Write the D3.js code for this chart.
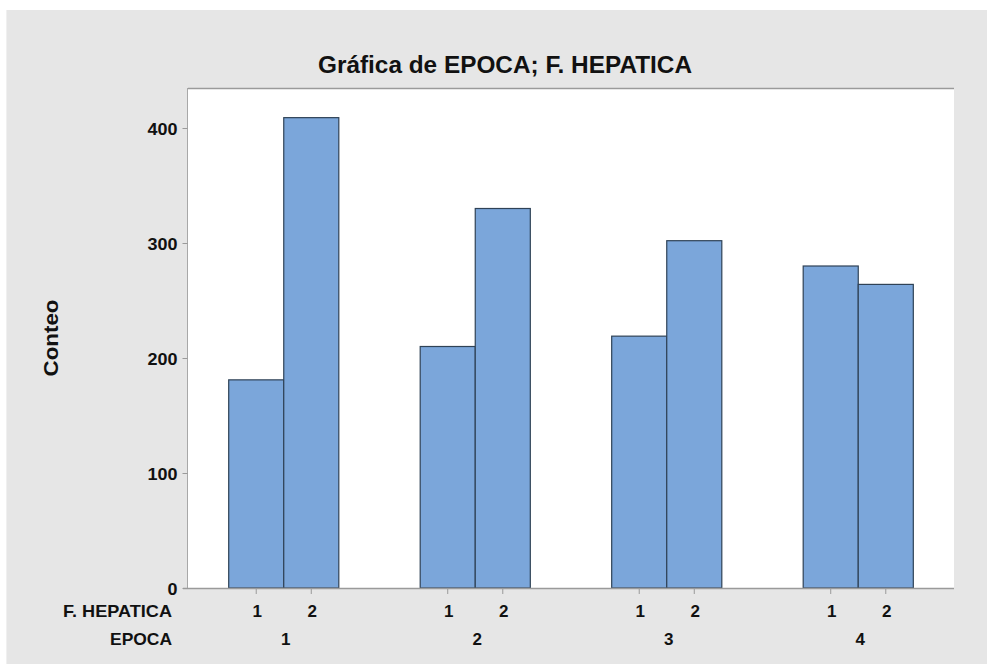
<!DOCTYPE html>
<html>
<head>
<meta charset="utf-8">
<script src="https://cdn.jsdelivr.net/npm/d3@7/dist/d3.min.js"></script>
<style>
  html, body { margin: 0; padding: 0; background: #ffffff; }
  svg { display: block; }
  text { font-family: "Liberation Sans", Arial, sans-serif; font-weight: bold; fill: #111; }
</style>
</head>
<body>
<svg id="chart" width="987" height="664"></svg>
<script>
// ---- data ----
const epocas = ["1", "2", "3", "4"];
const hepatica = ["1", "2"];
const counts1 = [181, 210, 219, 280];   // F. HEPATICA = 1
const counts2 = [409, 330, 302, 264];   // F. HEPATICA = 2
const yTicks = [0, 100, 200, 300, 400];
const title = "Gráfica de EPOCA; F. HEPATICA";
const yLabel = "Conteo";
const rowLabels = ["F. HEPATICA", "EPOCA"];

const data = [];
epocas.forEach((e, i) => {
  data.push({ epoca: e, hep: hepatica[0], value: counts1[i] });
  data.push({ epoca: e, hep: hepatica[1], value: counts2[i] });
});

const svg = d3.select("#chart");
const W = 987, H = 664;
const plot = { left: 188, top: 88, right: 954, bottom: 588 };

// outer background
svg.append("rect").attr("x", 0).attr("y", 0).attr("width", W).attr("height", H).attr("fill", "#ffffff");
svg.append("rect").attr("x", 6).attr("y", 10).attr("width", W - 6).attr("height", H - 10)
  .attr("fill", "#e6e6e6");
svg.append("line").attr("x1", 6.5).attr("x2", 6.5).attr("y1", 10).attr("y2", H)
  .attr("stroke", "#f0f0f0").attr("stroke-width", 1);

// plot area
svg.append("rect").attr("x", plot.left).attr("y", plot.top)
  .attr("width", plot.right - plot.left).attr("height", plot.bottom - plot.top)
  .attr("fill", "#ffffff");

const y = d3.scaleLinear().domain([0, 400]).range([plot.bottom, 128]);
const x0 = d3.scaleBand().domain(epocas).range([plot.left, plot.right])
  .paddingInner(0.425).paddingOuter(0.2125);
const x1 = d3.scaleBand().domain(hepatica).range([0, x0.bandwidth()]).padding(0);

// bars
svg.append("g").selectAll("rect").data(data).join("rect")
  .attr("x", d => x0(d.epoca) + x1(d.hep))
  .attr("y", d => y(d.value))
  .attr("width", x1.bandwidth())
  .attr("height", d => y(0) - y(d.value))
  .attr("fill", "#7ba6da")
  .attr("stroke", "#2f4256")
  .attr("stroke-width", 1.2);

// plot frame: top and left borders
svg.append("line").attr("x1", plot.left).attr("x2", plot.right).attr("y1", plot.top + 0.5).attr("y2", plot.top + 0.5)
  .attr("stroke", "#9a9a9a").attr("stroke-width", 1.5);
svg.append("line").attr("x1", plot.left - 0.5).attr("x2", plot.left - 0.5).attr("y1", plot.top).attr("y2", plot.bottom)
  .attr("stroke", "#a8a8a8").attr("stroke-width", 1);

// y axis
const yAxis = d3.axisLeft(y).tickValues(yTicks).tickSize(5).tickPadding(5).tickFormat(d3.format("d"));
const gy = svg.append("g").attr("transform", `translate(${plot.left - 0.5},0)`).call(yAxis);
gy.select(".domain").remove();
gy.selectAll(".tick line").attr("stroke", "#9a9a9a");
gy.selectAll(".tick text")
  .style("font-family", "'Liberation Sans', Arial, sans-serif")
  .style("font-weight", "bold")
  .attr("font-size", 17).attr("fill", "#111")
  .attr("dy", "0.36em")
  .attr("textLength", d => String(d).length * 10)
  .attr("lengthAdjust", "spacingAndGlyphs");

// baseline
svg.append("line").attr("x1", plot.left - 5).attr("x2", plot.right).attr("y1", plot.bottom + 0.5).attr("y2", plot.bottom + 0.5)
  .attr("stroke", "#9a9a9a").attr("stroke-width", 1.5);

// x ticks and labels (two rows)
const sub = svg.append("g");
data.forEach(d => {
  const cx = x0(d.epoca) + x1(d.hep) + x1.bandwidth() / 2;
  sub.append("line").attr("x1", cx).attr("x2", cx).attr("y1", plot.bottom + 1).attr("y2", plot.bottom + 6)
    .attr("stroke", "#9a9a9a").attr("stroke-width", 1);
  sub.append("text").attr("x", cx + 1).attr("y", 617)
    .attr("text-anchor", "middle").attr("font-size", 17).text(d.hep);
});
epocas.forEach(e => {
  svg.append("text").attr("x", x0(e) + x0.bandwidth() / 2 + 2).attr("y", 645)
    .attr("text-anchor", "middle").attr("font-size", 17).text(e);
});
svg.append("text").attr("x", 172).attr("y", 617).attr("text-anchor", "end")
  .attr("font-size", 17).attr("textLength", 109).attr("lengthAdjust", "spacingAndGlyphs")
  .text(rowLabels[0]);
svg.append("text").attr("x", 172).attr("y", 645).attr("text-anchor", "end")
  .attr("font-size", 17).attr("textLength", 62).attr("lengthAdjust", "spacingAndGlyphs")
  .text(rowLabels[1]);

// title
svg.append("text").attr("x", 318).attr("y", 73)
  .attr("font-size", 24).attr("textLength", 374).attr("lengthAdjust", "spacingAndGlyphs")
  .text(title);

// y label
svg.append("text")
  .attr("transform", "translate(58,338) rotate(-90)")
  .attr("text-anchor", "middle")
  .attr("font-size", 20).attr("textLength", 77).attr("lengthAdjust", "spacingAndGlyphs")
  .text(yLabel);
</script>
</body>
</html>
